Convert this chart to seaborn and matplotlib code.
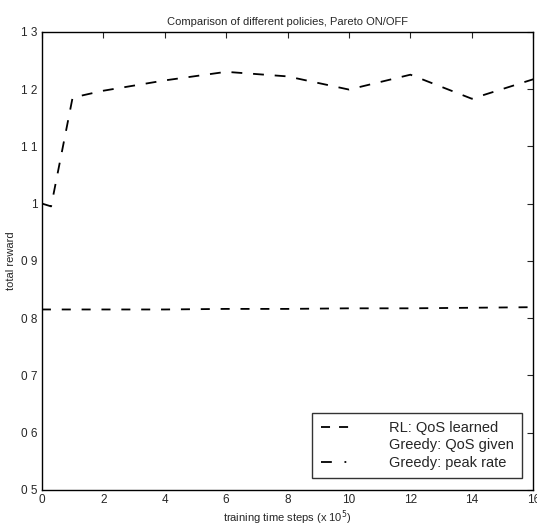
import numpy as np
import pandas as pd
import seaborn as sns
import matplotlib.pyplot as plt
from matplotlib.lines import Line2D

# training time steps (x 10^5)
rl_steps = [0, 0.3, 1, 2, 4, 6, 8, 10, 12, 14, 16]
rl_reward = [1.0, 0.995, 1.185, 1.197, 1.215, 1.23, 1.222, 1.199, 1.225, 1.183, 1.217]

peak_steps = [0, 2, 4, 6, 8, 10, 12, 14, 16]
peak_reward = [0.815, 0.815, 0.815, 0.816, 0.816, 0.817, 0.817, 0.818, 0.819]

legend_labels = ['RL: QoS learned', 'Greedy: QoS given', 'Greedy: peak rate']

sns.set_style('white')
plt.rcParams['font.family'] = ['Liberation Sans', 'DejaVu Sans']

fig = plt.figure(figsize=(5.37, 5.29), dpi=100)
ax = fig.add_axes([0.078, 0.074, 0.915, 0.866])

df_rl = pd.DataFrame({'step': rl_steps, 'reward': rl_reward})
df_peak = pd.DataFrame({'step': peak_steps, 'reward': peak_reward})

sns.lineplot(ax=ax, data=df_rl, x='step', y='reward', color='black',
             linewidth=1.3, dashes=False)
sns.lineplot(ax=ax, data=df_peak, x='step', y='reward', color='black',
             linewidth=1.3, dashes=False)
ax.lines[0].set_dashes([6, 6])
ax.lines[1].set_dashes([5, 6])

ax.set_xlim(0, 16)
ax.set_ylim(0.5, 1.3)
ax.set_xticks(np.arange(0, 17, 2))
ax.set_yticks(np.arange(0.5, 1.31, 0.1))
ax.set_yticklabels(['0 5', '0 6', '0 7', '0 8', '0 9', '1', '1 1', '1 2', '1 3'])
ax.tick_params(direction='in', length=4, top=True, right=True,
               labelsize=8.5, width=0.8, pad=3)
for s in ax.spines.values():
    s.set_visible(True)
    s.set_color('black')
    s.set_linewidth(1.0)

ax.set_xlabel('training time steps (x 10$^5$)', fontsize=8, labelpad=2)
ax.set_ylabel('total reward', fontsize=8, labelpad=4)
ax.set_title('Comparison of different policies, Pareto ON/OFF', fontsize=8, pad=5)

handles = [Line2D([], [], color='black', linewidth=1.3, dashes=[5, 5]),
           Line2D([], [], color='white', linewidth=0),
           Line2D([], [], color='black', linewidth=1.3, dashes=[6, 7, 1, 7])]
leg = ax.legend(handles, legend_labels, loc='lower right', fontsize=10.5,
                frameon=True, fancybox=False, handlelength=2.5,
                borderpad=0.55, labelspacing=0.25, handletextpad=2.2,
                borderaxespad=0, bbox_to_anchor=(0.977, 0.026))
leg.get_frame().set_edgecolor('black')
leg.get_frame().set_linewidth(1.0)

fig.savefig('out.png', dpi=100)
